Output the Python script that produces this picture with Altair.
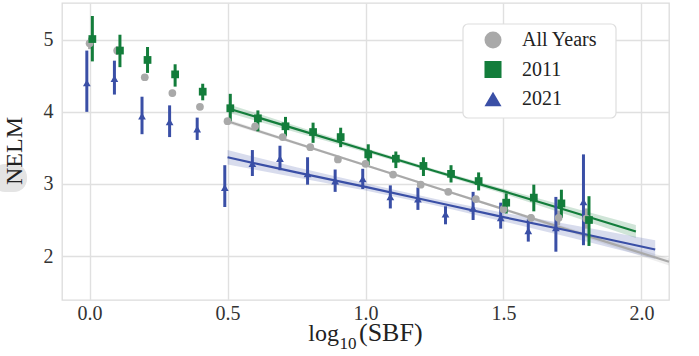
import altair as alt
import pandas as pd

# ---------------- data ----------------
series_names = ["All Years", "2011", "2021"]
series_colors = ["#a9a9a9", "#137d3b", "#3a4fa6"]
series_shapes = ["circle", "square", "triangle-up"]

bins = [0.0, 0.1, 0.2, 0.3, 0.4, 0.5, 0.6, 0.7, 0.8, 0.9,
        1.0, 1.1, 1.2, 1.3, 1.4, 1.5, 1.6, 1.7, 1.8]

all_y = [4.95, 4.85, 4.48, 4.26, 4.07, 3.87, 3.80, 3.65, 3.51, 3.34,
         3.28, 3.13, 2.99, 2.89, 2.79, 2.65, 2.53, 2.53, 2.52]
all_err = [0.08, 0.06, 0.045, 0.045, 0.04, 0.04, 0.035, 0.035, 0.035, 0.035,
           0.035, 0.035, 0.035, 0.04, 0.04, 0.05, 0.05, 0.10, 0.14]

y2011 = [5.01, 4.85, 4.72, 4.52, 4.28, 4.05, 3.91, 3.80, 3.72, 3.65,
         3.41, 3.35, 3.25, 3.14, 3.04, 2.74, 2.81, 2.73, 2.50]
lo2011 = [4.70, 4.62, 4.54, 4.35, 4.16, 3.87, 3.73, 3.66, 3.57, 3.51,
          3.26, 3.22, 3.11, 3.02, 2.91, 2.59, 2.62, 2.53, 2.14]
hi2011 = [5.33, 5.07, 4.90, 4.66, 4.39, 4.25, 4.02, 3.93, 3.85, 3.78,
          3.55, 3.45, 3.37, 3.26, 3.16, 2.87, 2.99, 2.92, 2.83]

y2021 = [4.40, 4.46, 3.94, 3.86, 3.76, 2.95, 3.28, 3.35, 3.14, 3.04,
         3.07, 2.82, 2.79, 2.58, 2.66, 2.53, 2.35, 2.39, 2.75]
lo2021 = [4.00, 4.24, 3.69, 3.65, 3.61, 2.68, 3.11, 3.19, 2.99, 2.89,
          2.93, 2.66, 2.64, 2.44, 2.50, 2.38, 2.20, 2.06, 2.15]
hi2021 = [4.85, 4.71, 4.21, 4.09, 3.92, 3.26, 3.47, 3.53, 3.37, 3.20,
          3.21, 2.98, 2.95, 2.69, 2.89, 2.74, 2.51, 2.82, 3.41]

# fitted lines with confidence half-widths
fit_all_x = [0.5, 0.75, 1.0, 1.25, 1.5, 1.75, 2.1]
fit_all_y = [3.87, 3.565, 3.26, 2.955, 2.65, 2.345, 1.92]
fit_all_hw = [0.03, 0.02, 0.015, 0.015, 0.02, 0.03, 0.05]

fit_2011_x = [0.5, 0.75, 1.0, 1.25, 1.5, 1.75, 1.98]
fit_2011_y = [4.05, 3.76, 3.47, 3.18, 2.90, 2.61, 2.34]
fit_2011_hw = [0.06, 0.045, 0.03, 0.025, 0.035, 0.06, 0.09]

fit_2021_x = [0.5, 0.75, 1.0, 1.25, 1.5, 1.75, 2.05]
fit_2021_y = [3.37, 3.16, 2.96, 2.75, 2.54, 2.34, 2.09]
fit_2021_hw = [0.10, 0.07, 0.05, 0.045, 0.06, 0.09, 0.13]

x_ticks = [0.0, 0.5, 1.0, 1.5, 2.0]
y_ticks = [2, 3, 4, 5]
y_title = "NELM"
x_title_parts = ["log", "10", "(SBF)"]

# ---------------- tables ----------------
offsets = {"All Years": 0.0, "2011": 0.01, "2021": -0.01}
rows = []
for i, b in enumerate(bins):
    rows.append(dict(series="All Years", x=b + offsets["All Years"], y=all_y[i],
                     lo=all_y[i] - all_err[i], hi=all_y[i] + all_err[i], order=0))
for i, b in enumerate(bins):
    rows.append(dict(series="2011", x=b + offsets["2011"], y=y2011[i],
                     lo=lo2011[i], hi=hi2011[i], order=1))
for i, b in enumerate(bins):
    rows.append(dict(series="2021", x=b + offsets["2021"], y=y2021[i],
                     lo=lo2021[i], hi=hi2021[i], order=2))
pts = pd.DataFrame(rows)

fits = []
for name, xs_, ys_, hws in [("All Years", fit_all_x, fit_all_y, fit_all_hw),
                            ("2011", fit_2011_x, fit_2011_y, fit_2011_hw),
                            ("2021", fit_2021_x, fit_2021_y, fit_2021_hw)]:
    for xv, yv, hv in zip(xs_, ys_, hws):
        fits.append(dict(series=name, x=xv, y=yv, lo=yv - hv, hi=yv + hv))
fit = pd.DataFrame(fits)

FONT = "Liberation Serif"
W, H = 607, 297

xs = alt.Scale(domain=[-0.1, 2.1], nice=False, zero=False)
ys = alt.Scale(domain=[1.39, 5.51], nice=False, zero=False)
col = alt.Scale(domain=series_names, range=series_colors)
shp = alt.Scale(domain=series_names, range=series_shapes)

X = alt.X("x:Q", scale=xs, axis=alt.Axis(values=x_ticks, format=".1f", title=None,
                                          labelPadding=3))
Y = alt.Y("y:Q", scale=ys, axis=alt.Axis(values=y_ticks, format="d", title=None,
                                          labelPadding=9))

base_fit = alt.Chart(fit)
bands = base_fit.mark_area(opacity=0.2).encode(
    x=alt.X("x:Q", scale=xs), y=alt.Y("lo:Q", scale=ys), y2="hi:Q",
    color=alt.Color("series:N", scale=col, legend=None))
lines = base_fit.mark_line(strokeWidth=2.2).encode(
    x=alt.X("x:Q", scale=xs), y=alt.Y("y:Q", scale=ys),
    color=alt.Color("series:N", scale=col, legend=None))

base_pts = alt.Chart(pts)
ebars = base_pts.mark_rule(strokeWidth=3).encode(
    x=alt.X("x:Q", scale=xs), y=alt.Y("lo:Q", scale=ys), y2="hi:Q",
    color=alt.Color("series:N", scale=col, legend=None),
    order="order:Q")

leg = alt.Legend(title=None, orient="none", legendX=421, legendY=27, zindex=5,
                 labelFont=FONT, labelFontSize=20, labelColor="#222222",
                 symbolSize=290, symbolStrokeWidth=0, symbolOpacity=1,
                 labelOffset=19, rowPadding=9.5, padding=0)
points = base_pts.mark_point(filled=True, opacity=1, size=60).encode(
    x=X, y=Y,
    color=alt.Color("series:N", scale=col, legend=leg, sort=series_names),
    shape=alt.Shape("series:N", scale=shp, legend=leg, sort=series_names),
    order="order:Q")

one = pd.DataFrame({"k": [0]})
legend_box = alt.Chart(one).mark_rect(fill="white", stroke="#dedede", strokeWidth=1.2,
                                      cornerRadius=5).encode(
    x=alt.value(401), x2=alt.value(554), y=alt.value(21), y2=alt.value(115))

blob = alt.Chart(one).mark_rect(fill="#e4e4e4", cornerRadius=13).encode(
    x=alt.value(-70), x2=alt.value(-35), y=alt.value(161), y2=alt.value(189))

ytitle_df = pd.DataFrame({"t": [y_title]})
ytitle = alt.Chart(ytitle_df).mark_text(font=FONT, fontSize=24, angle=270,
                                        align="center", baseline="middle",
                                        color="#222222").encode(
    x=alt.value(-47), y=alt.value(148), text="t:N")

xt0 = alt.Chart(pd.DataFrame({"t": [x_title_parts[0]]})).mark_text(
    font=FONT, fontSize=24, align="right", baseline="alphabetic", color="#222222").encode(
    x=alt.value(277), y=alt.value(338), text="t:N")
xt1 = alt.Chart(pd.DataFrame({"t": [x_title_parts[1]]})).mark_text(
    font=FONT, fontSize=17, align="left", baseline="alphabetic", color="#222222").encode(
    x=alt.value(277.5), y=alt.value(346), text="t:N")
xt2 = alt.Chart(pd.DataFrame({"t": [x_title_parts[2]]})).mark_text(
    font=FONT, fontSize=26, align="left", baseline="alphabetic", color="#222222").encode(
    x=alt.value(297), y=alt.value(338), text="t:N")

chart = alt.layer(bands, lines, ebars, legend_box, points, blob, ytitle, xt0, xt1, xt2).resolve_scale(
    color="independent", shape="independent"
).properties(
    width=W, height=H,
    autosize=alt.AutoSizeParams(type="none"),
    padding={"left": 62, "top": 3, "right": 30, "bottom": 56},
    background="white",
).configure_view(
    stroke="#dcdcdc", strokeWidth=1.3
).configure_axis(
    domain=False, ticks=False, grid=True, gridColor="#e0e0e0", gridWidth=1.4,
    labelFont=FONT, labelFontSize=20, labelColor="#333333",
).configure_legend(
    labelFont=FONT, labelFontSize=20, labelColor="#222222", symbolSize=290,
)

chart.save("out.html", embed_options={"renderer": "svg", "actions": False})
